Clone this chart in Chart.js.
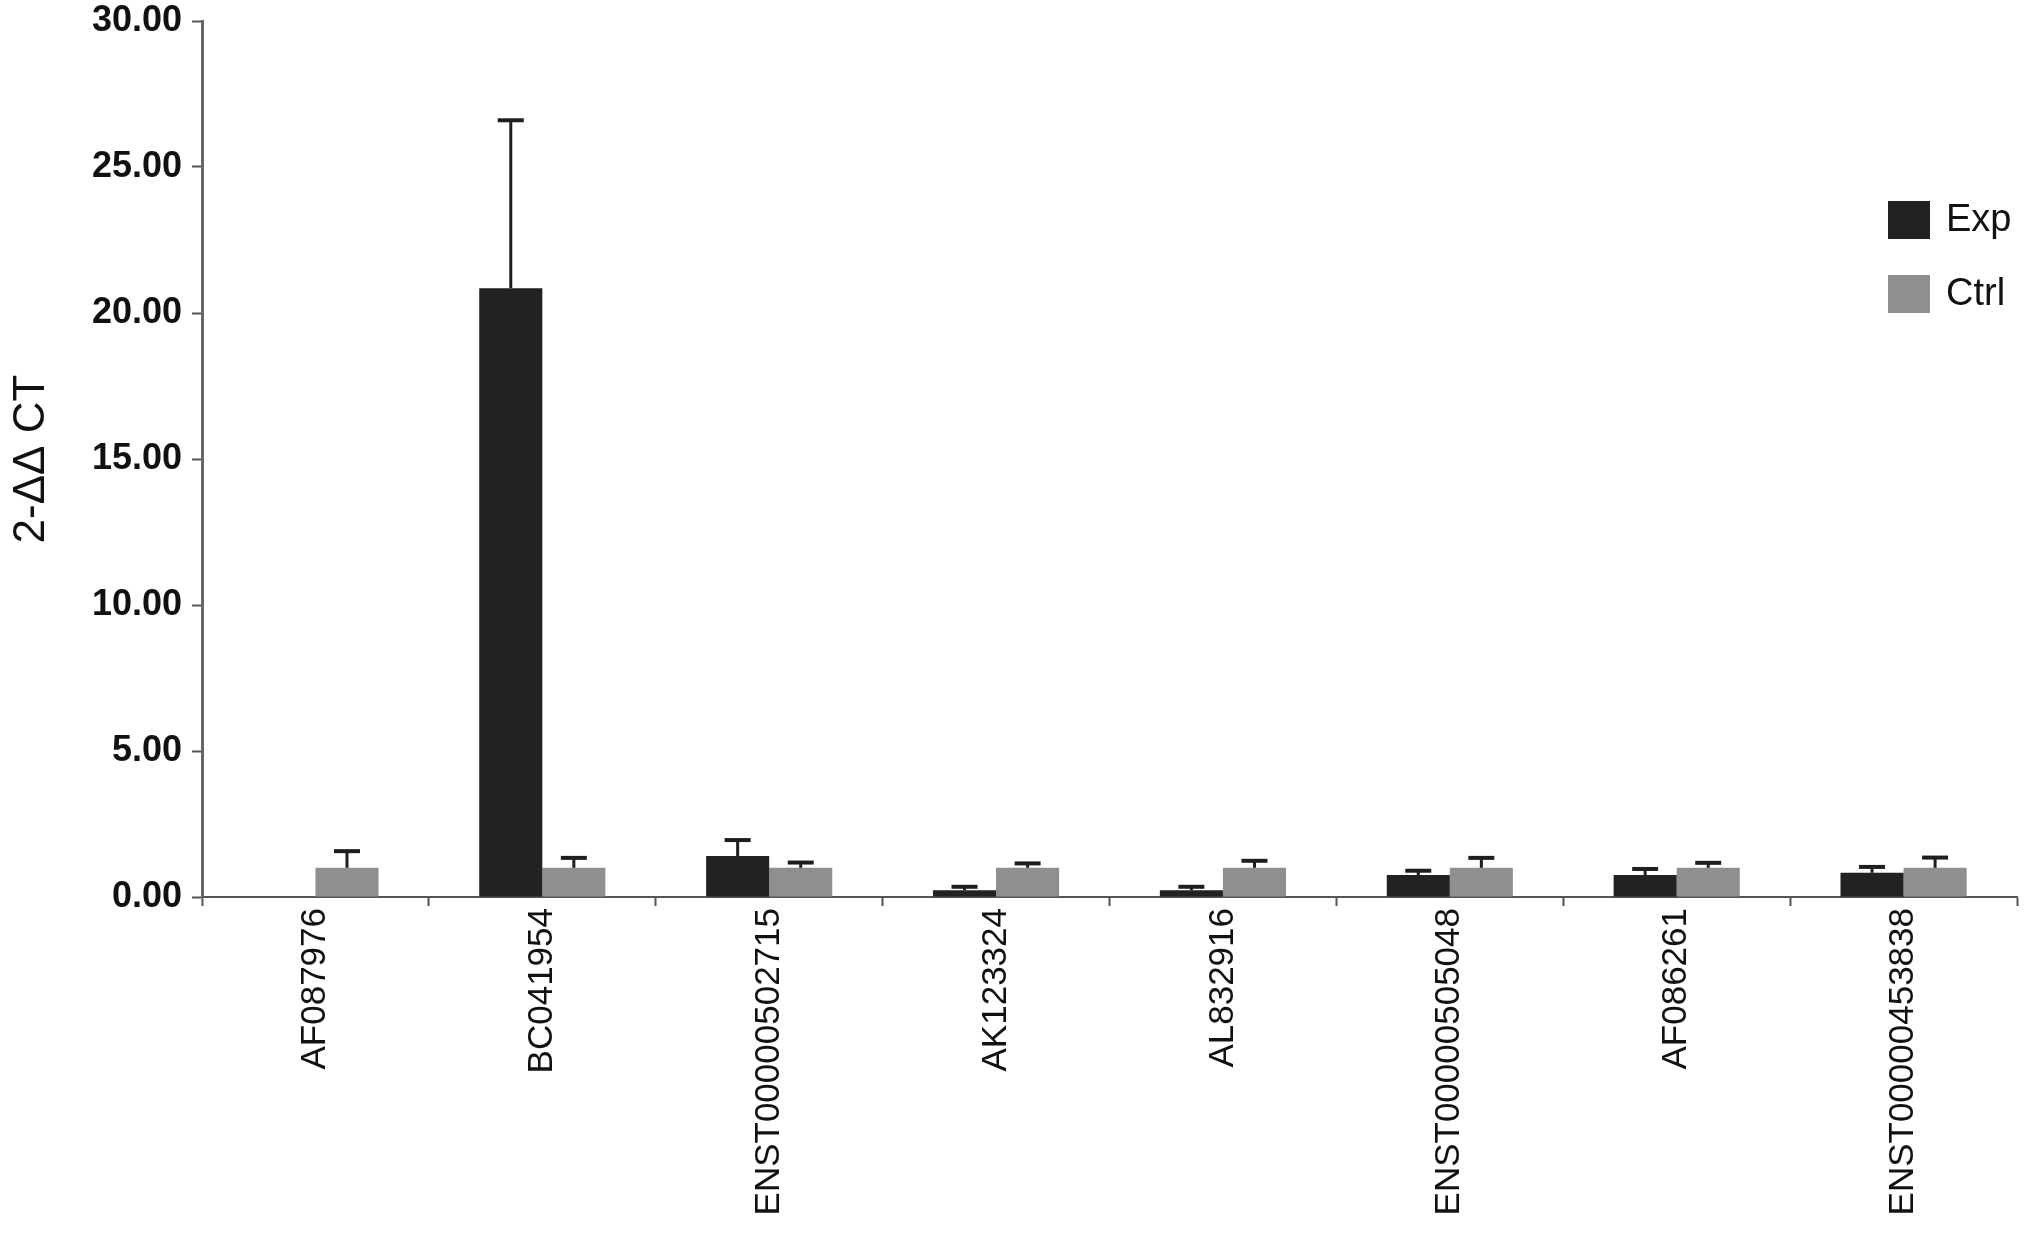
<!DOCTYPE html>
<html>
<head>
<meta charset="utf-8">
<script src="https://cdn.jsdelivr.net/npm/chart.js@4/dist/chart.umd.min.js"></script>
<style>
  html, body { margin: 0; padding: 0; background: #ffffff; }
  canvas { display: block; }
</style>
</head>
<body>
<canvas id="c" width="2031" height="1233"></canvas>
<script>
// ---- data ----
const categories = ['AF087976', 'BC041954', 'ENST00000502715', 'AK123324', 'AL832916', 'ENST00000505048', 'AF086261', 'ENST00000453838'];
const seriesNames = ['Exp', 'Ctrl'];
const expValues  = [0, 20.85, 1.40, 0.23, 0.23, 0.75, 0.75, 0.83];
const expErrors  = [null, 5.75, 0.55, 0.12, 0.12, 0.15, 0.21, 0.20];
const ctrlValues = [1.00, 1.00, 1.00, 1.00, 1.00, 1.00, 1.00, 1.00];
const ctrlErrors = [0.57, 0.34, 0.18, 0.15, 0.24, 0.34, 0.17, 0.35];
const yTicks = [0, 5, 10, 15, 20, 25, 30];
const yTitle = '2-ΔΔ CT';

const FONT = '"Liberation Sans", Arial, Helvetica, sans-serif';

// error bar plugin (upper bars only), drawn through the library's scales
const errorBars = {
  id: 'errorBars',
  afterDatasetsDraw(chart) {
    const ctx = chart.ctx;
    const y = chart.scales.y;
    chart.data.datasets.forEach((ds, di) => {
      const meta = chart.getDatasetMeta(di);
      meta.data.forEach((bar, i) => {
        const e = ds.errors[i];
        if (e === null || e === undefined) return;
        const top = y.getPixelForValue(ds.data[i] + e);
        const base = y.getPixelForValue(ds.data[i]);
        ctx.save();
        ctx.strokeStyle = '#1e1e1e';
        ctx.lineWidth = 3;
        ctx.beginPath();
        ctx.moveTo(bar.x, base);
        ctx.lineTo(bar.x, top);
        ctx.stroke();
        ctx.lineWidth = 4;
        ctx.beginPath();
        ctx.moveTo(bar.x - 13, top);
        ctx.lineTo(bar.x + 13, top);
        ctx.stroke();
        ctx.restore();
      });
    });
  }
};

// legend drawn inside the chart area, upper right
const innerLegend = {
  id: 'innerLegend',
  afterDraw(chart) {
    const ctx = chart.ctx;
    const a = chart.chartArea;
    ctx.save();
    chart.data.datasets.forEach((ds, i) => {
      const sx = a.right - 129;
      const sy = a.top + 180 + i * 74;
      ctx.fillStyle = ds.backgroundColor;
      ctx.fillRect(sx, sy, 42, 38);
      ctx.fillStyle = '#111111';
      ctx.font = '38px ' + FONT;
      ctx.textBaseline = 'middle';
      ctx.textAlign = 'left';
      ctx.fillText(ds.label, sx + 58, sy + 20);
    });
    ctx.restore();
  }
};

new Chart(document.getElementById('c'), {
  type: 'bar',
  data: {
    labels: categories,
    datasets: [
      { label: seriesNames[0], data: expValues, errors: expErrors, backgroundColor: '#222222', borderWidth: 0 },
      { label: seriesNames[1], data: ctrlValues, errors: ctrlErrors, backgroundColor: '#8f8f8f', borderWidth: 0 }
    ]
  },
  options: {
    responsive: false,
    animation: false,
    layout: { padding: { top: 21, right: 14, left: 0, bottom: 0 } },
    plugins: { legend: { display: false }, tooltip: { enabled: false } },
    datasets: { bar: { categoryPercentage: 0.556, barPercentage: 1.0 } },
    scales: {
      x: {
        grid: { display: true, drawOnChartArea: false, drawTicks: true, tickLength: 9, tickWidth: 2, color: '#555555', offset: true },
        border: { display: true, color: '#555555', width: 2 },
        ticks: {
          autoSkip: false, maxRotation: 90, minRotation: 90, padding: 2,
          color: '#111111', font: { family: FONT, size: 35 }
        },
        afterFit(scale) { scale.height = 336; scale.paddingLeft = 0; scale.paddingRight = 0; }
      },
      y: {
        min: 0, max: 30,
        afterBuildTicks(scale) { scale.ticks = yTicks.map(v => ({ value: v })); },
        grid: { display: true, drawOnChartArea: false, drawTicks: true, tickLength: 10, tickWidth: 2, color: '#555555' },
        border: { display: true, color: '#666666', width: 3 },
        ticks: {
          padding: 10, color: '#111111',
          font: { family: FONT, size: 36, weight: 'bold' },
          callback: v => Number(v).toFixed(2)
        },
        title: {
          display: true, text: yTitle, color: '#111111', padding: 5,
          font: { family: FONT, size: 44 }
        },
        afterFit(scale) { scale.width = 202; scale.paddingTop = 0; scale.paddingBottom = 0; }
      }
    }
  },
  plugins: [errorBars, innerLegend]
});
</script>
</body>
</html>
